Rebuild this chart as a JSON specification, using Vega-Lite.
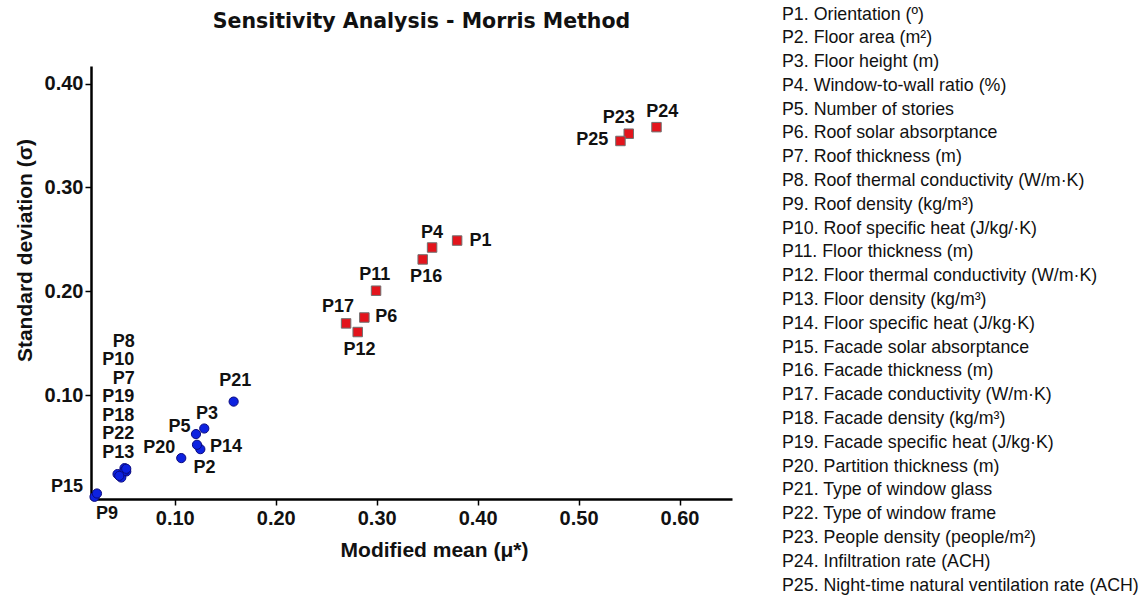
{
  "$schema": "https://vega.github.io/schema/vega-lite/v6.json",
  "padding": {"left": 14, "top": 5, "right": 0, "bottom": 0},
  "config": {
    "font": "Liberation Sans",
    "view": {"stroke": null},
    "concat": {"spacing": 49}
  },
  "datasets": {
    "params": [
      {"id": "P1", "desc": "P1. Orientation (º)", "group": "high", "mu": 0.3797, "sigma": 0.2489, "label_mu": 0.4028, "label_sigma": 0.2484},
      {"id": "P2", "desc": "P2. Floor area (m²)", "group": "low", "mu": 0.1253, "sigma": 0.048, "label_mu": 0.1295, "label_sigma": 0.0297},
      {"id": "P3", "desc": "P3. Floor height (m)", "group": "low", "mu": 0.1292, "sigma": 0.0679, "label_mu": 0.1319, "label_sigma": 0.0823},
      {"id": "P4", "desc": "P4. Window-to-wall ratio (%)", "group": "high", "mu": 0.3549, "sigma": 0.2422, "label_mu": 0.3549, "label_sigma": 0.2562},
      {"id": "P5", "desc": "P5. Number of stories", "group": "low", "mu": 0.121, "sigma": 0.0625, "label_mu": 0.1048, "label_sigma": 0.0698},
      {"id": "P6", "desc": "P6. Roof solar absorptance", "group": "high", "mu": 0.2878, "sigma": 0.1748, "label_mu": 0.3096, "label_sigma": 0.1748},
      {"id": "P7", "desc": "P7. Roof thickness (m)", "group": "low", "mu": 0.0502, "sigma": 0.0297, "label_mu": 0.0494, "label_sigma": 0.1158},
      {"id": "P8", "desc": "P8. Roof thermal conductivity (W/m·K)", "group": "low", "mu": 0.0519, "sigma": 0.0265, "label_mu": 0.0494, "label_sigma": 0.1514},
      {"id": "P9", "desc": "P9. Roof density (kg/m³)", "group": "low", "mu": 0.0205, "sigma": 0.0021, "label_mu": 0.0328, "label_sigma": -0.0146},
      {"id": "P10", "desc": "P10. Roof specific heat (J/kg/·K)", "group": "low", "mu": 0.047, "sigma": 0.0207, "label_mu": 0.0441, "label_sigma": 0.1336},
      {"id": "P11", "desc": "P11. Floor thickness (m)", "group": "high", "mu": 0.2994, "sigma": 0.2006, "label_mu": 0.298, "label_sigma": 0.2158},
      {"id": "P12", "desc": "P12. Floor thermal conductivity (W/m·K)", "group": "high", "mu": 0.2812, "sigma": 0.1608, "label_mu": 0.2831, "label_sigma": 0.1439},
      {"id": "P13", "desc": "P13. Floor density (kg/m³)", "group": "low", "mu": 0.0433, "sigma": 0.024, "label_mu": 0.0441, "label_sigma": 0.0446},
      {"id": "P14", "desc": "P14. Floor specific heat (J/kg·K)", "group": "low", "mu": 0.122, "sigma": 0.0522, "label_mu": 0.1507, "label_sigma": 0.0502},
      {"id": "P15", "desc": "P15. Facade solar absorptance", "group": "low", "mu": 0.0229, "sigma": 0.0053, "label_mu": -0.0068, "label_sigma": 0.0111},
      {"id": "P16", "desc": "P16. Facade thickness (m)", "group": "high", "mu": 0.3456, "sigma": 0.2307, "label_mu": 0.349, "label_sigma": 0.2142},
      {"id": "P17", "desc": "P17. Facade conductivity (W/m·K)", "group": "high", "mu": 0.2697, "sigma": 0.1691, "label_mu": 0.2617, "label_sigma": 0.1852},
      {"id": "P18", "desc": "P18. Facade density (kg/m³)", "group": "low", "mu": 0.0502, "sigma": 0.0271, "label_mu": 0.0441, "label_sigma": 0.0802},
      {"id": "P19", "desc": "P19. Facade specific heat (J/kg·K)", "group": "low", "mu": 0.0519, "sigma": 0.0291, "label_mu": 0.0441, "label_sigma": 0.098},
      {"id": "P20", "desc": "P20. Partition thickness (m)", "group": "low", "mu": 0.1064, "sigma": 0.0394, "label_mu": 0.0846, "label_sigma": 0.049},
      {"id": "P21", "desc": "P21. Type of window glass", "group": "low", "mu": 0.1583, "sigma": 0.0938, "label_mu": 0.16, "label_sigma": 0.114},
      {"id": "P22", "desc": "P22. Type of window frame", "group": "low", "mu": 0.045, "sigma": 0.0223, "label_mu": 0.0441, "label_sigma": 0.0624},
      {"id": "P23", "desc": "P23. People density (people/m²)", "group": "high", "mu": 0.5497, "sigma": 0.3518, "label_mu": 0.5398, "label_sigma": 0.367},
      {"id": "P24", "desc": "P24. Infiltration rate (ACH)", "group": "high", "mu": 0.5772, "sigma": 0.3581, "label_mu": 0.5829, "label_sigma": 0.3723},
      {"id": "P25", "desc": "P25. Night-time natural ventilation rate (ACH)", "group": "high", "mu": 0.5415, "sigma": 0.3448, "label_mu": 0.5135, "label_sigma": 0.3454}
    ]
  },
  "resolve": {"scale": {"x": "independent", "y": "independent"}},
  "hconcat": [
    {
      "width": 641,
      "height": 433,
      "title": {
        "text": "Sensitivity Analysis - Morris Method",
        "font": "DejaVu Sans",
        "fontSize": 20.5,
        "fontWeight": "bold",
        "color": "#111111",
        "anchor": "middle",
        "frame": "group",
        "dx": 10,
        "baseline": "alphabetic",
        "offset": 18
      },
      "data": {"name": "params"},
      "layer": [
        {
          "mark": {"type": "point", "filled": true, "opacity": 1, "strokeWidth": 1},
          "encoding": {
            "x": {
              "field": "mu", "type": "quantitative",
              "scale": {"domain": [0.017, 0.652], "nice": false, "zero": false},
              "axis": {
                "title": "Modified mean (μ*)",
                "values": [0.1, 0.2, 0.3, 0.4, 0.5, 0.6],
                "format": ".2f",
                "grid": false,
                "domainColor": "#000000", "domainWidth": 2.5,
                "tickColor": "#000000", "tickWidth": 1.5, "tickSize": 6,
                "labelFontSize": 20, "labelFontWeight": "bold", "labelColor": "#111111", "labelPadding": 3,
                "titleFontSize": 21, "titleFontWeight": "bold", "titleColor": "#111111", "titlePadding": 11,
                "titleX": 343
              }
            },
            "y": {
              "field": "sigma", "type": "quantitative",
              "scale": {"domain": [0, 0.417], "nice": false, "zero": false},
              "axis": {
                "title": "Standard deviation (σ)",
                "values": [0.1, 0.2, 0.3, 0.4],
                "format": ".2f",
                "grid": false,
                "domainColor": "#000000", "domainWidth": 2.5,
                "tickColor": "#000000", "tickWidth": 1.5, "tickSize": 6,
                "labelFontSize": 20, "labelFontWeight": "bold", "labelColor": "#111111", "labelPadding": 2,
                "titleFontSize": 21, "titleFontWeight": "bold", "titleColor": "#111111", "titlePadding": 9,
                "titleY": 184
              }
            },
            "color": {"field": "group", "type": "nominal", "scale": {"domain": ["low", "high"], "range": ["#0d22e0", "#e3141c"]}, "legend": null},
            "stroke": {"field": "group", "type": "nominal", "scale": {"domain": ["low", "high"], "range": ["#0a0a80", "#707070"]}, "legend": null},
            "shape": {"field": "group", "type": "nominal", "scale": {"domain": ["low", "high"], "range": ["circle", "square"]}, "legend": null},
            "size": {"field": "group", "type": "nominal", "scale": {"domain": ["low", "high"], "range": [85, 90]}, "legend": null}
          }
        },
        {
          "mark": {"type": "text", "fontSize": 18, "fontWeight": "bold", "align": "center", "baseline": "middle", "color": "#111111"},
          "encoding": {
            "x": {"field": "label_mu", "type": "quantitative"},
            "y": {"field": "label_sigma", "type": "quantitative"},
            "text": {"field": "id"}
          }
        }
      ]
    },
    {
      "width": 2,
      "height": 571,
      "data": {"name": "params"},
      "mark": {"type": "text", "align": "left", "baseline": "middle", "fontSize": 17.8, "dy": -51.5, "color": "#111111"},
      "encoding": {
        "y": {"field": "id", "type": "ordinal", "sort": null, "scale": {"type": "point", "padding": 0}, "axis": null},
        "text": {"field": "desc"}
      }
    }
  ]
}
